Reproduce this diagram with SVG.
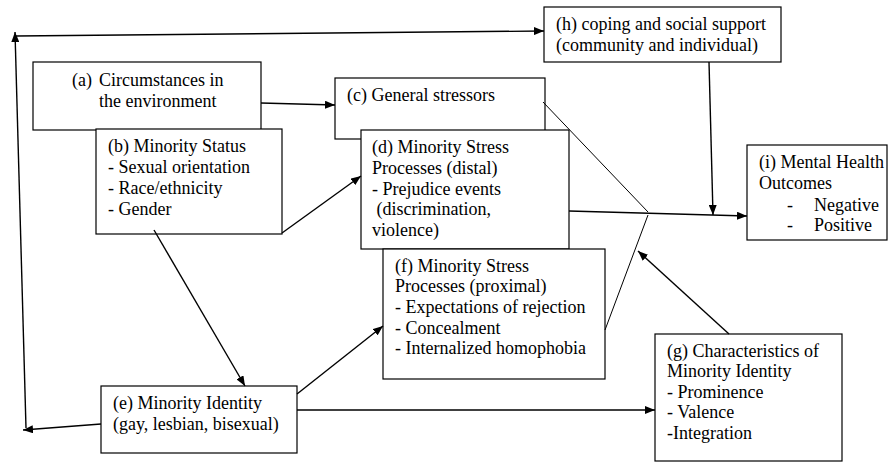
<svg xmlns="http://www.w3.org/2000/svg" width="895" height="462" viewBox="0 0 895 462">
  <defs>
    <marker id="arrow" viewBox="0 0 10 8" refX="10" refY="4" markerWidth="10" markerHeight="8" markerUnits="userSpaceOnUse" orient="auto">
      <path d="M0,0 L10,4 L0,8 Z" fill="#000"/>
    </marker>
  </defs>
  <style>
    .box { fill: #fff; stroke: #000; stroke-width: 1.2; }
    .lbl { font-family: "Liberation Serif", "Times New Roman", "DejaVu Serif", serif; font-size: 18px; fill: #000; }
    .conn { stroke: #000; stroke-width: 1.4; fill: none; }
    .arr { marker-end: url(#arrow); }
    .thin { stroke: #000; stroke-width: 1; fill: none; }
  </style>
  <rect width="895" height="462" fill="#fff"/>

  <!-- (a) -->
  <g id="node-a">
    <rect class="box" x="33" y="62" width="228" height="68"/>
    <text class="lbl"><tspan x="72" y="86">(a)</tspan><tspan x="99" y="86">Circumstances in</tspan><tspan x="99" y="107">the environment</tspan></text>
  </g>

  <!-- (c) -->
  <g id="node-c">
    <rect class="box" x="335" y="78" width="210" height="61"/>
    <text class="lbl" x="347" y="101">(c) General stressors</text>
  </g>

  <!-- (b) -->
  <g id="node-b">
    <rect class="box" x="96" y="129" width="186" height="105"/>
    <text class="lbl"><tspan x="108" y="152">(b) Minority Status</tspan><tspan x="108" y="173">- Sexual orientation</tspan><tspan x="108" y="194">- Race/ethnicity</tspan><tspan x="108" y="215">- Gender</tspan></text>
  </g>

  <!-- (d) -->
  <g id="node-d">
    <rect class="box" x="361" y="130" width="208" height="119"/>
    <text class="lbl" xml:space="preserve"><tspan x="372" y="153">(d) Minority Stress</tspan><tspan x="372" y="174">Processes (distal)</tspan><tspan x="372" y="195">- Prejudice events</tspan><tspan x="372" y="215"> (discrimination,</tspan><tspan x="372" y="236">violence)</tspan></text>
  </g>

  <!-- (h) -->
  <g id="node-h">
    <rect class="box" x="544" y="7" width="237" height="55"/>
    <text class="lbl"><tspan x="556" y="30">(h) coping and social support</tspan><tspan x="556" y="51">(community and individual)</tspan></text>
  </g>

  <!-- (i) -->
  <g id="node-i">
    <rect class="box" x="747" y="145" width="140" height="95"/>
    <text class="lbl"><tspan x="759" y="168">(i) Mental Health</tspan><tspan x="759" y="189">Outcomes</tspan><tspan x="787" y="211">-</tspan><tspan x="814" y="211">Negative</tspan><tspan x="787" y="231">-</tspan><tspan x="814" y="231">Positive</tspan></text>
  </g>

  <!-- (f) -->
  <g id="node-f">
    <rect class="box" x="383" y="249" width="222" height="130"/>
    <text class="lbl"><tspan x="395" y="272">(f) Minority Stress</tspan><tspan x="395" y="292">Processes (proximal)</tspan><tspan x="395" y="313">- Expectations of rejection</tspan><tspan x="395" y="334">- Concealment</tspan><tspan x="395" y="354">- Internalized homophobia</tspan></text>
  </g>

  <!-- (e) -->
  <g id="node-e">
    <rect class="box" x="101" y="386" width="196" height="67"/>
    <text class="lbl"><tspan x="113" y="409">(e) Minority Identity</tspan><tspan x="113" y="430">(gay, lesbian, bisexual)</tspan></text>
  </g>

  <!-- (g) -->
  <g id="node-g">
    <rect class="box" x="655" y="334" width="187" height="127"/>
    <text class="lbl"><tspan x="667" y="357">(g) Characteristics of</tspan><tspan x="667" y="377">Minority Identity</tspan><tspan x="667" y="398">- Prominence</tspan><tspan x="667" y="418">- Valence</tspan><tspan x="667" y="439">-Integration</tspan></text>
  </g>

  <!-- connectors -->
  <g id="connectors">
    <line class="conn arr" x1="261" y1="103" x2="335" y2="105"/>
    <line class="conn arr" x1="101" y1="424" x2="23" y2="430"/>
    <line class="conn arr" x1="26" y1="428" x2="15" y2="32"/>
    <line class="conn arr" x1="16" y1="36" x2="544" y2="31"/>
    <line class="conn arr" x1="709" y1="62" x2="713" y2="215"/>
    <line class="conn arr" x1="569" y1="211" x2="747" y2="216"/>
    <line class="thin" x1="543" y1="102" x2="648" y2="212"/>
    <line class="thin" x1="648" y1="215" x2="605" y2="330"/>
    <line class="conn arr" x1="729" y1="334" x2="638" y2="251"/>
    <line class="conn arr" x1="297" y1="410" x2="655" y2="410"/>
    <line class="conn arr" x1="297" y1="394" x2="383" y2="326"/>
    <line class="conn arr" x1="282" y1="233" x2="361" y2="176"/>
    <line class="conn arr" x1="154" y1="230" x2="245" y2="386"/>
  </g>
</svg>
